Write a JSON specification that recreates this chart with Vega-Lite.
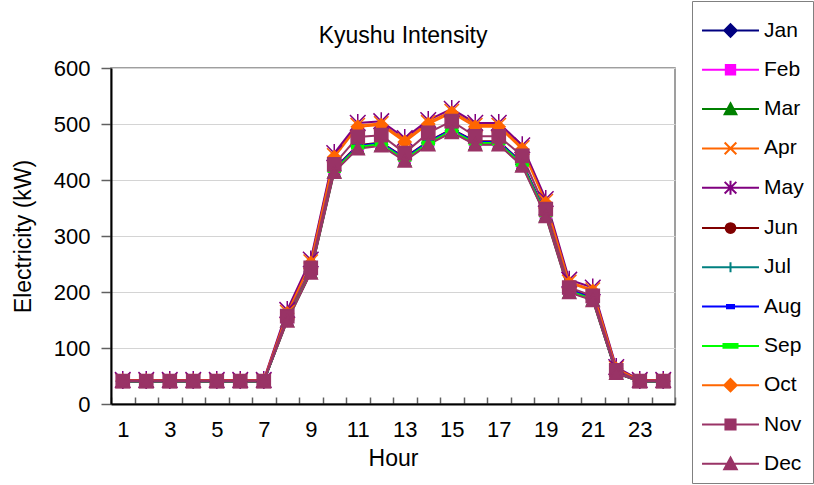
{
  "$schema": "https://vega.github.io/schema/vega-lite/v6.json",
  "width": 564,
  "height": 336,
  "padding": {"left": 12, "top": 0, "right": 0, "bottom": 0},
  "background": "white",
  "title": {"text": "Kyushu Intensity", "fontSize": 23, "fontWeight": "normal", "font": "Liberation Sans", "color": "black", "frame": "group", "baseline": "alphabetic", "offset": -65, "dx": 10},
  "config": {
    "font": "Liberation Sans",
    "view": {"stroke": "#808080", "strokeWidth": 1.5},
    "axis": {"labelFontSize": 22, "titleFontSize": 23, "titleFontWeight": "normal", "labelColor": "black", "titleColor": "black", "domainColor": "black", "domainWidth": 2, "tickColor": "#606060", "tickWidth": 1.5}
  },
  "data": {"values": [
{"h":1,"m":"Jan","v":40},{"h":1,"m":"Feb","v":40},{"h":1,"m":"Mar","v":40},{"h":1,"m":"Apr","v":42},{"h":1,"m":"May","v":43},{"h":1,"m":"Jun","v":40},{"h":1,"m":"Jul","v":40},{"h":1,"m":"Aug","v":40},{"h":1,"m":"Sep","v":40},{"h":1,"m":"Oct","v":42},{"h":1,"m":"Nov","v":41},{"h":1,"m":"Dec","v":40},
{"h":2,"m":"Jan","v":40},{"h":2,"m":"Feb","v":40},{"h":2,"m":"Mar","v":40},{"h":2,"m":"Apr","v":42},{"h":2,"m":"May","v":43},{"h":2,"m":"Jun","v":40},{"h":2,"m":"Jul","v":40},{"h":2,"m":"Aug","v":40},{"h":2,"m":"Sep","v":40},{"h":2,"m":"Oct","v":42},{"h":2,"m":"Nov","v":41},{"h":2,"m":"Dec","v":40},
{"h":3,"m":"Jan","v":40},{"h":3,"m":"Feb","v":40},{"h":3,"m":"Mar","v":40},{"h":3,"m":"Apr","v":42},{"h":3,"m":"May","v":43},{"h":3,"m":"Jun","v":40},{"h":3,"m":"Jul","v":40},{"h":3,"m":"Aug","v":40},{"h":3,"m":"Sep","v":40},{"h":3,"m":"Oct","v":42},{"h":3,"m":"Nov","v":41},{"h":3,"m":"Dec","v":40},
{"h":4,"m":"Jan","v":40},{"h":4,"m":"Feb","v":40},{"h":4,"m":"Mar","v":40},{"h":4,"m":"Apr","v":42},{"h":4,"m":"May","v":43},{"h":4,"m":"Jun","v":40},{"h":4,"m":"Jul","v":40},{"h":4,"m":"Aug","v":40},{"h":4,"m":"Sep","v":40},{"h":4,"m":"Oct","v":42},{"h":4,"m":"Nov","v":41},{"h":4,"m":"Dec","v":40},
{"h":5,"m":"Jan","v":40},{"h":5,"m":"Feb","v":40},{"h":5,"m":"Mar","v":40},{"h":5,"m":"Apr","v":42},{"h":5,"m":"May","v":43},{"h":5,"m":"Jun","v":40},{"h":5,"m":"Jul","v":40},{"h":5,"m":"Aug","v":40},{"h":5,"m":"Sep","v":40},{"h":5,"m":"Oct","v":42},{"h":5,"m":"Nov","v":41},{"h":5,"m":"Dec","v":40},
{"h":6,"m":"Jan","v":40},{"h":6,"m":"Feb","v":40},{"h":6,"m":"Mar","v":40},{"h":6,"m":"Apr","v":42},{"h":6,"m":"May","v":43},{"h":6,"m":"Jun","v":40},{"h":6,"m":"Jul","v":40},{"h":6,"m":"Aug","v":40},{"h":6,"m":"Sep","v":40},{"h":6,"m":"Oct","v":42},{"h":6,"m":"Nov","v":41},{"h":6,"m":"Dec","v":40},
{"h":7,"m":"Jan","v":40},{"h":7,"m":"Feb","v":40},{"h":7,"m":"Mar","v":40},{"h":7,"m":"Apr","v":42},{"h":7,"m":"May","v":43},{"h":7,"m":"Jun","v":40},{"h":7,"m":"Jul","v":40},{"h":7,"m":"Aug","v":40},{"h":7,"m":"Sep","v":40},{"h":7,"m":"Oct","v":42},{"h":7,"m":"Nov","v":41},{"h":7,"m":"Dec","v":40},
{"h":8,"m":"Jan","v":150},{"h":8,"m":"Feb","v":152},{"h":8,"m":"Mar","v":149},{"h":8,"m":"Apr","v":164},{"h":8,"m":"May","v":168},{"h":8,"m":"Jun","v":153},{"h":8,"m":"Jul","v":151},{"h":8,"m":"Aug","v":151},{"h":8,"m":"Sep","v":150},{"h":8,"m":"Oct","v":162},{"h":8,"m":"Nov","v":157},{"h":8,"m":"Dec","v":148},
{"h":9,"m":"Jan","v":236},{"h":9,"m":"Feb","v":238},{"h":9,"m":"Mar","v":235},{"h":9,"m":"Apr","v":254},{"h":9,"m":"May","v":258},{"h":9,"m":"Jun","v":239},{"h":9,"m":"Jul","v":237},{"h":9,"m":"Aug","v":238},{"h":9,"m":"Sep","v":236},{"h":9,"m":"Oct","v":252},{"h":9,"m":"Nov","v":243},{"h":9,"m":"Dec","v":234},
{"h":10,"m":"Jan","v":417},{"h":10,"m":"Feb","v":419},{"h":10,"m":"Mar","v":415},{"h":10,"m":"Apr","v":444},{"h":10,"m":"May","v":448},{"h":10,"m":"Jun","v":420},{"h":10,"m":"Jul","v":418},{"h":10,"m":"Aug","v":419},{"h":10,"m":"Sep","v":417},{"h":10,"m":"Oct","v":441},{"h":10,"m":"Nov","v":428},{"h":10,"m":"Dec","v":414},
{"h":11,"m":"Jan","v":459},{"h":11,"m":"Feb","v":461},{"h":11,"m":"Mar","v":457},{"h":11,"m":"Apr","v":498},{"h":11,"m":"May","v":502},{"h":11,"m":"Jun","v":462},{"h":11,"m":"Jul","v":460},{"h":11,"m":"Aug","v":461},{"h":11,"m":"Sep","v":459},{"h":11,"m":"Oct","v":495},{"h":11,"m":"Nov","v":477},{"h":11,"m":"Dec","v":456},
{"h":12,"m":"Jan","v":464},{"h":12,"m":"Feb","v":466},{"h":12,"m":"Mar","v":462},{"h":12,"m":"Apr","v":501},{"h":12,"m":"May","v":505},{"h":12,"m":"Jun","v":467},{"h":12,"m":"Jul","v":465},{"h":12,"m":"Aug","v":466},{"h":12,"m":"Sep","v":464},{"h":12,"m":"Oct","v":498},{"h":12,"m":"Nov","v":480},{"h":12,"m":"Dec","v":461},
{"h":13,"m":"Jan","v":437},{"h":13,"m":"Feb","v":439},{"h":13,"m":"Mar","v":435},{"h":13,"m":"Apr","v":471},{"h":13,"m":"May","v":475},{"h":13,"m":"Jun","v":440},{"h":13,"m":"Jul","v":438},{"h":13,"m":"Aug","v":439},{"h":13,"m":"Sep","v":437},{"h":13,"m":"Oct","v":468},{"h":13,"m":"Nov","v":448},{"h":13,"m":"Dec","v":434},
{"h":14,"m":"Jan","v":466},{"h":14,"m":"Feb","v":468},{"h":14,"m":"Mar","v":464},{"h":14,"m":"Apr","v":503},{"h":14,"m":"May","v":507},{"h":14,"m":"Jun","v":469},{"h":14,"m":"Jul","v":467},{"h":14,"m":"Aug","v":468},{"h":14,"m":"Sep","v":466},{"h":14,"m":"Oct","v":500},{"h":14,"m":"Nov","v":484},{"h":14,"m":"Dec","v":463},
{"h":15,"m":"Jan","v":488},{"h":15,"m":"Feb","v":490},{"h":15,"m":"Mar","v":486},{"h":15,"m":"Apr","v":523},{"h":15,"m":"May","v":527},{"h":15,"m":"Jun","v":491},{"h":15,"m":"Jul","v":489},{"h":15,"m":"Aug","v":490},{"h":15,"m":"Sep","v":488},{"h":15,"m":"Oct","v":520},{"h":15,"m":"Nov","v":505},{"h":15,"m":"Dec","v":485},
{"h":16,"m":"Jan","v":466},{"h":16,"m":"Feb","v":468},{"h":16,"m":"Mar","v":464},{"h":16,"m":"Apr","v":498},{"h":16,"m":"May","v":502},{"h":16,"m":"Jun","v":469},{"h":16,"m":"Jul","v":467},{"h":16,"m":"Aug","v":468},{"h":16,"m":"Sep","v":466},{"h":16,"m":"Oct","v":495},{"h":16,"m":"Nov","v":478},{"h":16,"m":"Dec","v":463},
{"h":17,"m":"Jan","v":466},{"h":17,"m":"Feb","v":468},{"h":17,"m":"Mar","v":464},{"h":17,"m":"Apr","v":498},{"h":17,"m":"May","v":502},{"h":17,"m":"Jun","v":469},{"h":17,"m":"Jul","v":467},{"h":17,"m":"Aug","v":468},{"h":17,"m":"Sep","v":466},{"h":17,"m":"Oct","v":495},{"h":17,"m":"Nov","v":478},{"h":17,"m":"Dec","v":463},
{"h":18,"m":"Jan","v":428},{"h":18,"m":"Feb","v":430},{"h":18,"m":"Mar","v":426},{"h":18,"m":"Apr","v":458},{"h":18,"m":"May","v":462},{"h":18,"m":"Jun","v":431},{"h":18,"m":"Jul","v":429},{"h":18,"m":"Aug","v":430},{"h":18,"m":"Sep","v":428},{"h":18,"m":"Oct","v":455},{"h":18,"m":"Nov","v":443},{"h":18,"m":"Dec","v":425},
{"h":19,"m":"Jan","v":338},{"h":19,"m":"Feb","v":340},{"h":19,"m":"Mar","v":336},{"h":19,"m":"Apr","v":362},{"h":19,"m":"May","v":366},{"h":19,"m":"Jun","v":341},{"h":19,"m":"Jul","v":339},{"h":19,"m":"Aug","v":340},{"h":19,"m":"Sep","v":338},{"h":19,"m":"Oct","v":359},{"h":19,"m":"Nov","v":348},{"h":19,"m":"Dec","v":335},
{"h":20,"m":"Jan","v":202},{"h":20,"m":"Feb","v":204},{"h":20,"m":"Mar","v":200},{"h":20,"m":"Apr","v":218},{"h":20,"m":"May","v":222},{"h":20,"m":"Jun","v":205},{"h":20,"m":"Jul","v":203},{"h":20,"m":"Aug","v":204},{"h":20,"m":"Sep","v":202},{"h":20,"m":"Oct","v":216},{"h":20,"m":"Nov","v":208},{"h":20,"m":"Dec","v":199},
{"h":21,"m":"Jan","v":187},{"h":21,"m":"Feb","v":189},{"h":21,"m":"Mar","v":186},{"h":21,"m":"Apr","v":204},{"h":21,"m":"May","v":208},{"h":21,"m":"Jun","v":190},{"h":21,"m":"Jul","v":188},{"h":21,"m":"Aug","v":189},{"h":21,"m":"Sep","v":187},{"h":21,"m":"Oct","v":202},{"h":21,"m":"Nov","v":193},{"h":21,"m":"Dec","v":185},
{"h":22,"m":"Jan","v":56},{"h":22,"m":"Feb","v":57},{"h":22,"m":"Mar","v":55},{"h":22,"m":"Apr","v":64},{"h":22,"m":"May","v":66},{"h":22,"m":"Jun","v":57},{"h":22,"m":"Jul","v":56},{"h":22,"m":"Aug","v":56},{"h":22,"m":"Sep","v":56},{"h":22,"m":"Oct","v":63},{"h":22,"m":"Nov","v":60},{"h":22,"m":"Dec","v":55},
{"h":23,"m":"Jan","v":40},{"h":23,"m":"Feb","v":40},{"h":23,"m":"Mar","v":40},{"h":23,"m":"Apr","v":42},{"h":23,"m":"May","v":43},{"h":23,"m":"Jun","v":40},{"h":23,"m":"Jul","v":40},{"h":23,"m":"Aug","v":40},{"h":23,"m":"Sep","v":40},{"h":23,"m":"Oct","v":42},{"h":23,"m":"Nov","v":41},{"h":23,"m":"Dec","v":40},
{"h":24,"m":"Jan","v":40},{"h":24,"m":"Feb","v":40},{"h":24,"m":"Mar","v":40},{"h":24,"m":"Apr","v":42},{"h":24,"m":"May","v":43},{"h":24,"m":"Jun","v":40},{"h":24,"m":"Jul","v":40},{"h":24,"m":"Aug","v":40},{"h":24,"m":"Sep","v":40},{"h":24,"m":"Oct","v":42},{"h":24,"m":"Nov","v":41},{"h":24,"m":"Dec","v":40}
  ]},
  "encoding": {
    "x": {"field": "h", "type": "ordinal", "title": "Hour",
      "scale": {"type": "band", "paddingInner": 0, "paddingOuter": 0},
      "axis": {"labelAngle": 0, "labelExpr": "datum.value % 2 == 1 ? datum.label : ''", "tickBand": "extent", "tickSize": -7, "labelPadding": 22, "titlePadding": 7}},
    "y": {"field": "v", "type": "quantitative", "title": "Electricity (kW)",
      "scale": {"domain": [0, 600], "nice": false},
      "axis": {"values": [0, 100, 200, 300, 400, 500, 600], "gridColor": "#d4d4d4", "gridWidth": 1.2, "tickSize": 10, "labelPadding": 11, "titlePadding": 18}}
  },
  "layer": [
    {
      "mark": {"type": "line", "strokeWidth": 2},
      "encoding": {
        "color": {"field": "m", "type": "nominal", "legend": null,
          "scale": {"domain": ["Jan","Feb","Mar","Apr","May","Jun","Jul","Aug","Sep","Oct","Nov","Dec"],
                    "range": ["#000080","#FF00FF","#008000","#FF6600","#800080","#800000","#008080","#0000FF","#00FF00","#FF6600","#993366","#993366"]}}
      }
    },
    {
      "mark": {"type": "point", "filled": true, "size": 144, "strokeWidth": 1.5, "opacity": 1},
      "encoding": {
        "color": {"field": "m", "type": "nominal", "legend": null,
          "scale": {"domain": ["Jan","Feb","Mar","Apr","May","Jun","Jul","Aug","Sep","Oct","Nov","Dec"],
                    "range": ["#000080","#FF00FF","#008000","#FF6600","#800080","#800000","#008080","#0000FF","#00FF00","#FF6600","#993366","#993366"]}},
        "stroke": {"field": "m", "type": "nominal", "legend": null,
          "scale": {"domain": ["Jan","Feb","Mar","Apr","May","Jun","Jul","Aug","Sep","Oct","Nov","Dec"],
                    "range": ["#000080","#FF00FF","#008000","#FF6600","#800080","#800000","#008080","#0000FF","#00FF00","#FF6600","#993366","#993366"]}},
        "shape": {"field": "m", "type": "nominal", "legend": null,
          "scale": {"domain": ["Jan","Feb","Mar","Apr","May","Jun","Jul","Aug","Sep","Oct","Nov","Dec"],
                    "range": ["M0,-1.05L1.05,0L0,1.05L-1.05,0Z",
                              "M-0.9,-0.9L0.9,-0.9L0.9,0.9L-0.9,0.9Z",
                              "M0,-1L1,0.9L-1,0.9Z",
                              "M-1.2,-1.2L1.2,1.2M-1.2,1.2L1.2,-1.2",
                              "M-1.3,-1.3L1.3,1.3M-1.3,1.3L1.3,-1.3M0,-1.5L0,1.5",
                              "M0.85,0A0.85,0.85 0 1,1 -0.85,0A0.85,0.85 0 1,1 0.85,0Z",
                              "M0,-1L0,1M-1,0L1,0",
                              "M-0.6,-0.25L0.6,-0.25L0.6,0.25L-0.6,0.25Z",
                              "M-1,-0.3L1,-0.3L1,0.3L-1,0.3Z",
                              "M0,-1.05L1.05,0L0,1.05L-1.05,0Z",
                              "M-1.1,-1.1L1.1,-1.1L1.1,1.1L-1.1,1.1Z",
                              "M0,-1.1L1.1,1L-1.1,1Z"]}}
      }
    },
    {
      "mark": {"type": "point", "filled": true, "opacity": 0},
      "encoding": {
        "color": {"field": "m", "type": "nominal",
          "scale": {"domain": ["Jan","Feb","Mar","Apr","May","Jun","Jul","Aug","Sep","Oct","Nov","Dec"],
                    "range": ["#000080","#FF00FF","#008000","#FF6600","#800080","#800000","#008080","#0000FF","#00FF00","#FF6600","#993366","#993366"]}},
        "stroke": {"field": "m", "type": "nominal",
          "scale": {"domain": ["Jan","Feb","Mar","Apr","May","Jun","Jul","Aug","Sep","Oct","Nov","Dec"],
                    "range": ["#000080","#FF00FF","#008000","#FF6600","#800080","#800000","#008080","#0000FF","#00FF00","#FF6600","#993366","#993366"]}},
        "shape": {"field": "m", "type": "nominal",
          "scale": {"domain": ["Jan","Feb","Mar","Apr","May","Jun","Jul","Aug","Sep","Oct","Nov","Dec"],
                    "range": ["M-1.46,0L1.46,0M0,-0.32L0.32,0L0,0.32L-0.32,0Z",
                              "M-1.46,0L1.46,0M-0.24,-0.24L0.24,-0.24L0.24,0.24L-0.24,0.24Z",
                              "M-1.46,0L1.46,0M0,-0.3L0.3,0.26L-0.3,0.26Z",
                              "M-1.46,0L1.46,0M-0.3,-0.3L0.3,0.3M-0.3,0.3L0.3,-0.3",
                              "M-1.46,0L1.46,0M-0.3,-0.3L0.3,0.3M-0.3,0.3L0.3,-0.3M0,-0.36L0,0.36",
                              "M-1.46,0L1.46,0M0.25,0A0.25,0.25 0 1,1 -0.25,0A0.25,0.25 0 1,1 0.25,0Z",
                              "M-1.46,0L1.46,0M0,-0.26L0,0.26",
                              "M-1.46,0L1.46,0M-0.18,-0.08L0.18,-0.08L0.18,0.08L-0.18,0.08Z",
                              "M-1.46,0L1.46,0M-0.36,-0.1L0.36,-0.1L0.36,0.1L-0.36,0.1Z",
                              "M-1.46,0L1.46,0M0,-0.32L0.32,0L0,0.32L-0.32,0Z",
                              "M-1.46,0L1.46,0M-0.26,-0.26L0.26,-0.26L0.26,0.26L-0.26,0.26Z",
                              "M-1.46,0L1.46,0M0,-0.32L0.32,0.28L-0.32,0.28Z"]},
          "legend": {"title": null, "orient": "none", "legendX": 581, "legendY": -67, "direction": "vertical",
            "strokeColor": "#808080", "fillColor": "white", "padding": 9, "rowPadding": 8.3,
            "symbolSize": 1521, "symbolStrokeWidth": 2, "symbolOpacity": 1, "symbolOffset": 9,
            "labelFontSize": 21, "labelColor": "black", "labelOffset": 13, "labelFont": "Liberation Sans"}}
      }
    }
  ],
  "resolve": {"scale": {"shape": "independent", "color": "independent", "stroke": "independent"}}
}
